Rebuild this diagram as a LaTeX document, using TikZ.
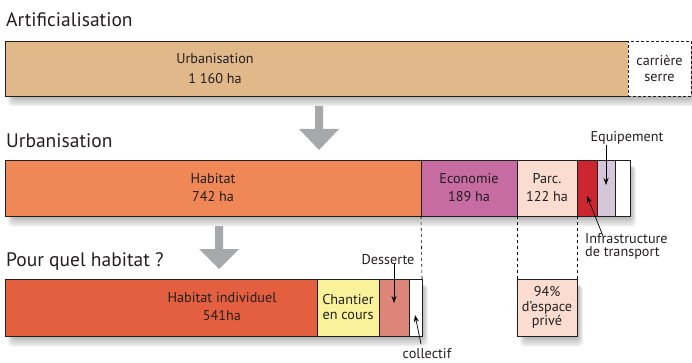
\documentclass[tikz,border=0pt]{standalone}
\usepackage{fontspec}
\setmainfont{PT Sans}
\usetikzlibrary{arrows.meta}
\definecolor{txt}{HTML}{231F20}
\definecolor{cUrb}{HTML}{E0B88A}
\definecolor{cHab}{HTML}{EF8757}
\definecolor{cEco}{HTML}{C76BA3}
\definecolor{cParc}{HTML}{FADDD0}
\definecolor{cInf}{HTML}{CC2631}
\definecolor{cEqu}{HTML}{D3C7D9}
\definecolor{cHind}{HTML}{E35F3F}
\definecolor{cChan}{HTML}{F9F29A}
\definecolor{cDess}{HTML}{DE857A}
\definecolor{cArr}{HTML}{A7A8AA}
\newcommand{\myshadow}[4]{%
  \foreach \k in {0,...,5}{%
    \fill[black,opacity=0.055,rounded corners=4pt] ({#1+8-\k},{#2+6}) rectangle ({#3+1+\k},{#4+2+1.7*\k});
  }}
\tikzset{
  title/.style={anchor=base west,font=\fontsize{19.5}{22}\selectfont,text=txt,inner sep=0pt},
  seg/.style={anchor=north west,inner sep=0pt,outer sep=0pt,draw=txt,line width=0.8pt,
    align=center,font=\fontsize{14.2}{18}\selectfont,text=txt},
  intxt/.style={inner sep=0pt,align=center,font=\fontsize{14.2}{18}\selectfont,text=txt},
  lbl/.style={inner sep=0pt,align=left,font=\fontsize{14.2}{14}\selectfont,text=txt},
  ann/.style={-{Stealth[length=7pt,width=5pt]},line width=0.7pt,draw=black},
  guide/.style={dashed,dash pattern=on 3pt off 3pt,line width=0.6pt,draw=black},
  bigarrow/.style={fill=cArr,draw=none}
}
\begin{document}
\begin{tikzpicture}[x=1pt,y=-1pt]
\useasboundingbox (0,0) rectangle (692,363);
% titles
\node[title] (t1) at (6,27) {Artificialisation};
\node[title] (t2) at (6,148) {Urbanisation};
\node[title] (t3) at (6,266) {Pour quel habitat ?};
% shadows
\myshadow{5}{41}{691}{96}
\myshadow{5}{160}{630}{216}
\myshadow{5}{279}{422}{336}
\myshadow{517}{279}{577}{336}
% bar 1
\node[seg,draw=none,fill=cUrb,minimum width=623pt,minimum height=55pt] (urb) at (5,41) {};
\draw[txt,line width=0.8pt] (urb.north east) -- (urb.north west) -- (urb.south west) -- (urb.south east);
\node[intxt,font=\fontsize{14.2}{20}\selectfont] (urbt) at (215,69) {Urbanisation\\1 160 ha};
\node[seg,fill=white,dashed,dash pattern=on 3pt off 2pt,minimum width=63pt,minimum height=55pt,font=\fontsize{14.2}{16}\selectfont] (carr) at (628,41) {carrière\\serre};
% bar 2
\node[seg,fill=cHab,minimum width=416pt,minimum height=56pt] (hab) at (5,160) {Habitat\\742 ha};
\node[seg,fill=cEco,minimum width=96pt,minimum height=56pt] (eco) at (421,160) {Economie\\189 ha};
\node[seg,fill=cParc,minimum width=60pt,minimum height=56pt] (parc) at (517,160) {Parc.\\122 ha};
\node[seg,fill=cInf,minimum width=20pt,minimum height=56pt] (inf) at (577,160) {};
\node[seg,fill=cEqu,minimum width=18pt,minimum height=56pt] (equ) at (597,160) {};
\node[seg,fill=white,minimum width=15pt,minimum height=56pt] (wht) at (615,160) {};
% bar 3
\node[seg,fill=cHind,minimum width=312pt,minimum height=57pt] (hind) at (5,279) {};
\node[intxt] (hindt) at (222,307) {Habitat individuel\\541ha};
\node[seg,fill=cChan,minimum width=62pt,minimum height=57pt,font=\fontsize{14.2}{15}\selectfont] (chan) at (317,279) {Chantier\\en cours};
\node[seg,fill=cDess,minimum width=30pt,minimum height=57pt] (dess) at (379,279) {};
\node[seg,fill=white,minimum width=13pt,minimum height=57pt] (coll) at (409,279) {};
\node[seg,fill=cParc,minimum width=60pt,minimum height=57pt,font=\fontsize{14.2}{14.5}\selectfont] (priv) at (517,279) {94\%\\d’espace\\privé};
% big arrows
\fill[bigarrow] (315,106) -- (323,106) -- (323,129) -- (339,129) -- (319,150) -- (299,129) -- (315,129) -- cycle;
\fill[bigarrow] (215,226) -- (223,226) -- (223,249) -- (239,249) -- (219,269) -- (199,249) -- (215,249) -- cycle;
% guides
\draw[guide] (hab.south east) -- (coll.north east);
\draw[guide] (eco.south east) -- (priv.north west);
\draw[guide] (parc.south east) -- (priv.north east);
% annotations
\node[lbl,anchor=base] (lequ) at (627,142) {Equipement};
\coordinate (pequ) at (606,185);
\draw[ann] (lequ.south -| pequ) -- (pequ);
\node[lbl,anchor=north west,font=\fontsize{14.2}{13.5}\selectfont] (linf) at (585,233) {Infrastructure\\de transport};
\coordinate (pinf) at (587,196);
\draw[ann] (603,236) -- (pinf);
\node[lbl,anchor=base] (ldess) at (388,264) {Desserte};
\coordinate (pdess) at (394,303);
\draw[ann] (ldess.south -| pdess) -- (pdess);
\node[lbl,anchor=base] (lcoll) at (427,358.5) {collectif};
\coordinate (pcoll) at (415,315);
\draw[ann] (421,344) -- (pcoll);
\end{tikzpicture}
\end{document}
